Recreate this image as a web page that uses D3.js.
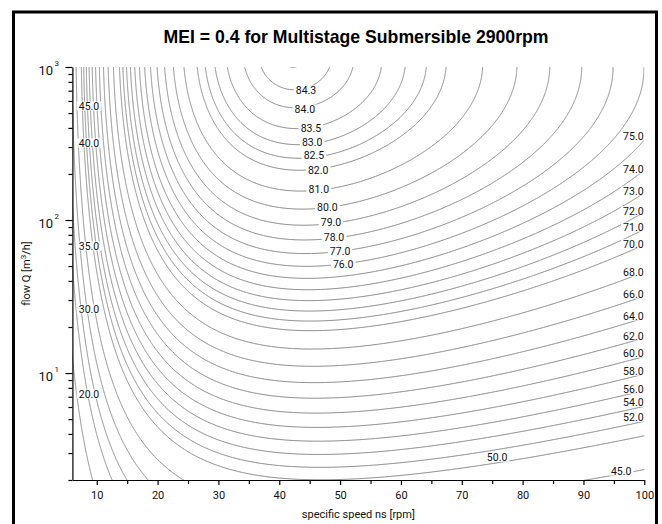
<!DOCTYPE html>
<html>
<head>
<meta charset="utf-8">
<script src="https://cdn.jsdelivr.net/npm/d3@7"></script>
<style>
  body { margin: 0; background: #fff; }
  text { font-family: Roboto, "Noto Sans", sans-serif; }
</style>
</head>
<body>
<svg id="chart"></svg>
<script>
// efficiency surface: eta = a*x + b*y + c*x^2 + d*y^2 + e*x*y - C, x = ln(ns), y = ln(Q)
const coef = [88.59, 13.46, -11.48, -0.85, -0.38];
const cPump = 128.85;

const levels = [20, 30, 35, 40, 45, 50, 52, 54, 56, 58, 60, 62, 64, 66, 68, 70,
  71, 72, 73, 74, 75, 76, 77, 78, 79, 80, 81, 82, 82.5, 83, 83.5, 84, 84.3, 84.5];

// contour labels, placed where they sit in the picture (ns, Q)
const labelLevels = [84.3, 84.0, 83.5, 83.0, 82.5, 82.0, 81.0, 80.0, 79.0, 78.0, 77.0, 76.0,
  75.0, 74.0, 73.0, 72.0, 71.0, 70.0, 68.0, 66.0, 64.0, 62.0, 60.0, 58.0, 56.0, 54.0, 52.0,
  50.0, 45.0, 45.0, 40.0, 35.0, 30.0, 20.0];
const labelNs = [44.4, 44.2, 45.2, 45.4, 45.7, 46.4, 46.5, 47.9, 48.5, 49.0, 50.0, 50.5,
  98.2, 98.2, 98.2, 98.2, 98.2, 98.2, 98.2, 98.2, 98.2, 98.2, 98.2, 98.2, 98.2, 98.2, 98.2,
  75.8, 96.2, 8.73, 8.73, 8.73, 8.73, 8.73];
const labelQ = [708, 531, 399, 324, 266, 212, 160, 122, 97, 77, 63, 51.5,
  354, 215, 155, 115, 90, 70, 45.7, 32.8, 23.6, 17.5, 13.5, 10.3, 7.85, 6.45, 5.15,
  2.82, 2.29, 556, 319, 67.6, 26.2, 7.3];

const xTicks = [10, 20, 30, 40, 50, 60, 70, 80, 90, 100];
const xMinor = [15, 25, 35, 45, 55, 65, 75, 85, 95];
const yTicks = [10, 100, 1000];
const yMinor = [2, 3, 4, 5, 6, 7, 8, 9, 20, 30, 40, 50, 60, 70, 80, 90,
  200, 300, 400, 500, 600, 700, 800, 900];

const width = 662, height = 524;
const svg = d3.select('#chart').attr('width', width).attr('height', height);

const x = d3.scaleLinear().domain([6, 100]).range([72.4, 644.3]);
const y = d3.scaleLog().domain([2, 1000]).range([480, 67]);

const plotLeft = x.range()[0], plotRight = x.range()[1];
const plotTop = y.range()[1], plotBottom = y.range()[0];

function eta(ns, q){
  const a = Math.log(ns), b = Math.log(q);
  return coef[0]*a + coef[1]*b + coef[2]*a*a + coef[3]*b*b + coef[4]*a*b - cPump;
}

// outer frame
svg.append('rect')
  .attr('x', 13.5).attr('y', 12)
  .attr('width', 643).attr('height', 540)
  .attr('fill', 'none')
  .attr('stroke', '#000')
  .attr('stroke-width', 3);

// title
svg.append('text')
  .attr('x', 356).attr('y', 43)
  .attr('text-anchor', 'middle')
  .style('font-family', '"Liberation Sans", Arial, sans-serif')
  .style('font-weight', 'bold')
  .style('font-size', '19px')
  .attr('textLength', 385)
  .attr('lengthAdjust', 'spacingAndGlyphs')
  .text('MEI = 0.4 for Multistage Submersible 2900rpm');

// grid of values on pixel cells
const pad = 2;
const nx = Math.ceil(plotRight - plotLeft) + 2*pad;
const ny = Math.ceil(plotBottom - plotTop) + 2*pad;
const values = new Float64Array(nx*ny);
for(let j = 0; j < ny; j++){
  const q = y.invert(plotTop - pad + j + 0.5);
  for(let i = 0; i < nx; i++){
    const ns = x.invert(plotLeft - pad + i + 0.5);
    values[j*nx + i] = eta(ns, q);
  }
}

const contours = d3.contours().size([nx, ny]).thresholds(levels)(values);

const toPixels = d3.geoTransform({
  point: function(gx, gy){ this.stream.point(plotLeft - pad + gx, plotTop - pad + gy); }
});
const path = d3.geoPath(toPixels);

svg.append('clipPath').attr('id', 'plot-clip')
  .append('rect')
  .attr('x', plotLeft).attr('y', plotTop)
  .attr('width', plotRight - plotLeft).attr('height', plotBottom - plotTop);

const chart = svg.append('g').attr('clip-path', 'url(#plot-clip)');

chart.selectAll('path.iso').data(contours).enter()
  .append('path')
  .attr('class', 'iso')
  .attr('d', path)
  .attr('fill', 'none')
  .attr('stroke', '#8a8a8a')
  .attr('stroke-width', 1);

// contour labels with a white patch that breaks the line
const labels = svg.append('g');
labelLevels.forEach((lv, k) => {
  const g = labels.append('g')
    .attr('transform', `translate(${x(labelNs[k])}, ${y(labelQ[k])})`);
  const bg = g.append('rect').attr('fill', '#fff');
  const t = g.append('text')
    .attr('text-anchor', 'middle')
    .attr('dy', '0.36em')
    .style('font-size', '10.5px')
    .attr('fill', '#111')
    .text(d3.format('.1f')(lv));
  const bb = t.node().getBBox();
  bg.attr('x', bb.x - 2).attr('y', -4.5).attr('width', bb.width + 4).attr('height', 9);
});

// axes
const xaxis_group = svg.append('g')
  .attr('transform', `translate(0, ${plotBottom})`)
  .call(d3.axisBottom(x).tickValues(xTicks).tickSize(5).tickSizeOuter(0)
    .tickPadding(6).tickFormat(d3.format('d')));
xaxis_group.append('g')
  .call(d3.axisBottom(x).tickValues(xMinor).tickSize(4).tickSizeOuter(0).tickFormat(''))
  .select('.domain').remove();

const yaxis_group = svg.append('g')
  .attr('transform', `translate(${plotLeft}, 0)`)
  .call(d3.axisLeft(y).tickValues(yTicks).tickSize(7).tickSizeOuter(0).tickFormat(''));
yaxis_group.append('g')
  .call(d3.axisLeft(y).tickValues(yMinor).tickSize(4).tickSizeOuter(0).tickFormat(''))
  .select('.domain').remove();

svg.selectAll('.domain, .tick line').attr('stroke', '#000').attr('stroke-width', 1.2);
xaxis_group.selectAll('text').style('font-size', '11px').attr('fill', '#111');

yTicks.forEach(v => {
  svg.append('text')
    .attr('x', 53).attr('y', y(v) + 7.5)
    .attr('text-anchor', 'end')
    .style('font-size', '13px')
    .attr('fill', '#111')
    .text('10');
  svg.append('text')
    .attr('x', 54.5).attr('y', y(v) - 1)
    .style('font-size', '8px')
    .attr('fill', '#111')
    .text(Math.round(Math.log10(v)));
});

// axis titles
svg.append('text')
  .attr('x', (plotLeft + plotRight) / 2).attr('y', 518)
  .attr('text-anchor', 'middle')
  .style('font-size', '11px')
  .attr('fill', '#111')
  .text('specific speed ns [rpm]');

const ylab = svg.append('text')
  .attr('transform', `translate(30, ${(plotTop + plotBottom) / 2}) rotate(-90)`)
  .attr('text-anchor', 'middle')
  .style('font-size', '11px')
  .attr('fill', '#111');
ylab.append('tspan').text('flow Q [m');
ylab.append('tspan').attr('dy', -4).style('font-size', '8px').text('3');
ylab.append('tspan').attr('dy', 4).text('/h]');
</script>
</body>
</html>
